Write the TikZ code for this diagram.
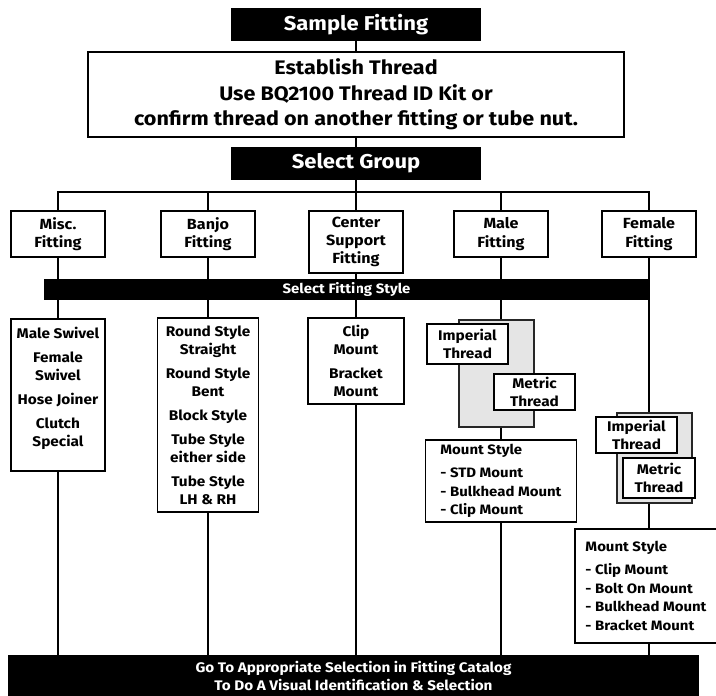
\documentclass[tikz,border=0pt]{standalone}
\usepackage{fontspec}
\setmainfont{Fira Sans}[FakeStretch=1.1]
\usepackage{tikz}
\usetikzlibrary{positioning, calc}
\tikzstyle{headbar} = [rectangle, fill=black, text=white, align=center, inner sep=1pt, font=\bfseries\fontsize{15}{18}\selectfont]
\tikzstyle{whitebox} = [rectangle, draw=black, line width=1.4pt, fill=white, align=center, inner sep=1pt]
\tikzstyle{groupbox} = [whitebox, minimum width=70.5pt, minimum height=34.5pt, font=\bfseries\fontsize{11}{13.75}\selectfont]
\tikzstyle{listbox} = [whitebox, font=\bfseries\fontsize{10.5}{13.5}\selectfont]
\tikzstyle{threadbox} = [whitebox, line width=1.2pt, minimum width=60.75pt, font=\bfseries\fontsize{10.5}{13.75}\selectfont]
\tikzstyle{mountbox} = [whitebox, align=left, font=\bfseries\fontsize{10.2}{14}\selectfont]
\tikzstyle{shadebox} = [rectangle, draw=black!85, line width=1pt, fill=black!10, minimum width=56.25pt]
\tikzstyle{link} = [line width=1.4pt]
\begin{document}
\begin{tikzpicture}[x=0.75pt, y=-0.75pt]
    \useasboundingbox (0,0) rectangle (716,695);
    % Top nodes
    \node (sample) [headbar, minimum width=187.5pt, minimum height=24.75pt] at (356,24.5) {Sample Fitting};
    \node (thread) [whitebox, minimum width=402pt, minimum height=63.75pt, font=\bfseries\fontsize{14.7}{19}\selectfont] at (356,94.5) {Establish Thread\\Use BQ2100 Thread ID Kit or\\confirm thread on another fitting or tube nut.};
    \node (select) [headbar, minimum width=187.5pt, minimum height=24.75pt] at (356,163.5) {Select Group};
    \coordinate (bus) at (356,192);

    % Groups
    \node (misc) [groupbox] at (58,234) {Misc.\\Fitting};
    \node (banjo) [groupbox] at (208,234) {Banjo\\Fitting};
    \node (center) [groupbox, minimum height=46.5pt] at (356,242) {Center\\Support\\Fitting};
    \node (male) [groupbox] at (501,234) {Male\\Fitting};
    \node (female) [groupbox] at (649,234) {Female\\Fitting};

    % Lists
    \node (misclist) [listbox, minimum width=70.5pt, minimum height=114pt] at (58,395) {Male Swivel\\[4.5pt]Female\\Swivel\\[4.5pt]Hose Joiner\\[4.5pt]Clutch\\Special\rule[-12pt]{0pt}{0pt}};
    \node (banjolist) [listbox, minimum width=75.75pt, minimum height=145.5pt] at (208,415) {Round Style\\Straight\\[4.5pt]Round Style\\Bent\\[4.5pt]Block Style\\[4.5pt]Tube Style\\either side\\[4.5pt]Tube Style\\LH \& RH};
    \node (centerlist) [listbox, minimum width=72pt, minimum height=64.5pt] at (356,361) {Clip\\Mount\\[4.5pt]Bracket\\Mount};

    % Male threads
    \node (mgray) [shadebox, minimum height=80.25pt] at (496.5,373.5) {};
    \node (mimperial) [threadbox, minimum height=30pt] at (467.5,344) {Imperial\\Thread};
    \node (mmetric) [threadbox, minimum height=27pt] at (534.5,392) {Metric\\Thread};
    \node (mmount) [mountbox, minimum width=113.25pt, minimum height=61.5pt] at (501,481) {Mount Style\\[3.5pt]- STD Mount\\- Bulkhead Mount\\- Clip Mount};

    % Female threads
    \node (fgray) [shadebox, minimum height=67.5pt] at (654.5,458) {};
    \node (fimperial) [threadbox, minimum height=27pt] at (636.5,435) {Imperial\\Thread};
    \node (fmetric) [threadbox, minimum width=54pt, minimum height=30pt] at (659,478) {Metric\\Thread};
    \node (fmount) [mountbox, minimum width=106.5pt, minimum height=85.5pt] at (646,586) {Mount Style\\[3pt]- Clip Mount\\- Bolt On Mount\\- Bulkhead Mount\\- Bracket Mount};

    % Bars
    \node (style) [headbar, minimum width=453.75pt, minimum height=15.75pt, font=\bfseries\fontsize{10.2}{11}\selectfont] at (346.5,289.5) {Select Fitting Style};
    \node (catalog) [headbar, minimum width=518.25pt, minimum height=30.75pt, font=\bfseries\fontsize{10.4}{13.5}\selectfont] at (353.5,675.5) {Go To Appropriate Selection in Fitting Catalog\\To Do A Visual Identification \& Selection};

    % Lines
    \draw [link] (sample) -- (thread);
    \draw [link] (thread) -- (select);
    \draw [link] (select) -- (center);
    \draw [link] (misc.north) |- (bus) -| (female.north);
    \draw [link] (banjo.north) -- (banjo.north |- bus);
    \draw [link] (male.north) -- (male.north |- bus);

    \draw [link] (misc) -- (misclist);
    \draw [link] (banjo) -- (banjolist);
    \draw [link] (center) -- (centerlist);
    \draw [link] (male.south) -- (male.south |- mgray.north);
    \draw [link] (female.south) -- (female.south |- fgray.north);

    \draw [link] (male.south |- mgray.south) -- (mmount.north);
    \draw [link] (female.south |- fgray.south) -- (female.south |- fmount.north);

    \draw [link] (misclist) -- (misclist |- catalog.north);
    \draw [link] (banjolist) -- (banjolist |- catalog.north);
    \draw [link] (centerlist) -- (centerlist |- catalog.north);
    \draw [link] (mmount) -- (mmount |- catalog.north);
    \draw [link] (female.south |- fmount.south) -- (female.south |- catalog.north);
\end{tikzpicture}
\end{document}
